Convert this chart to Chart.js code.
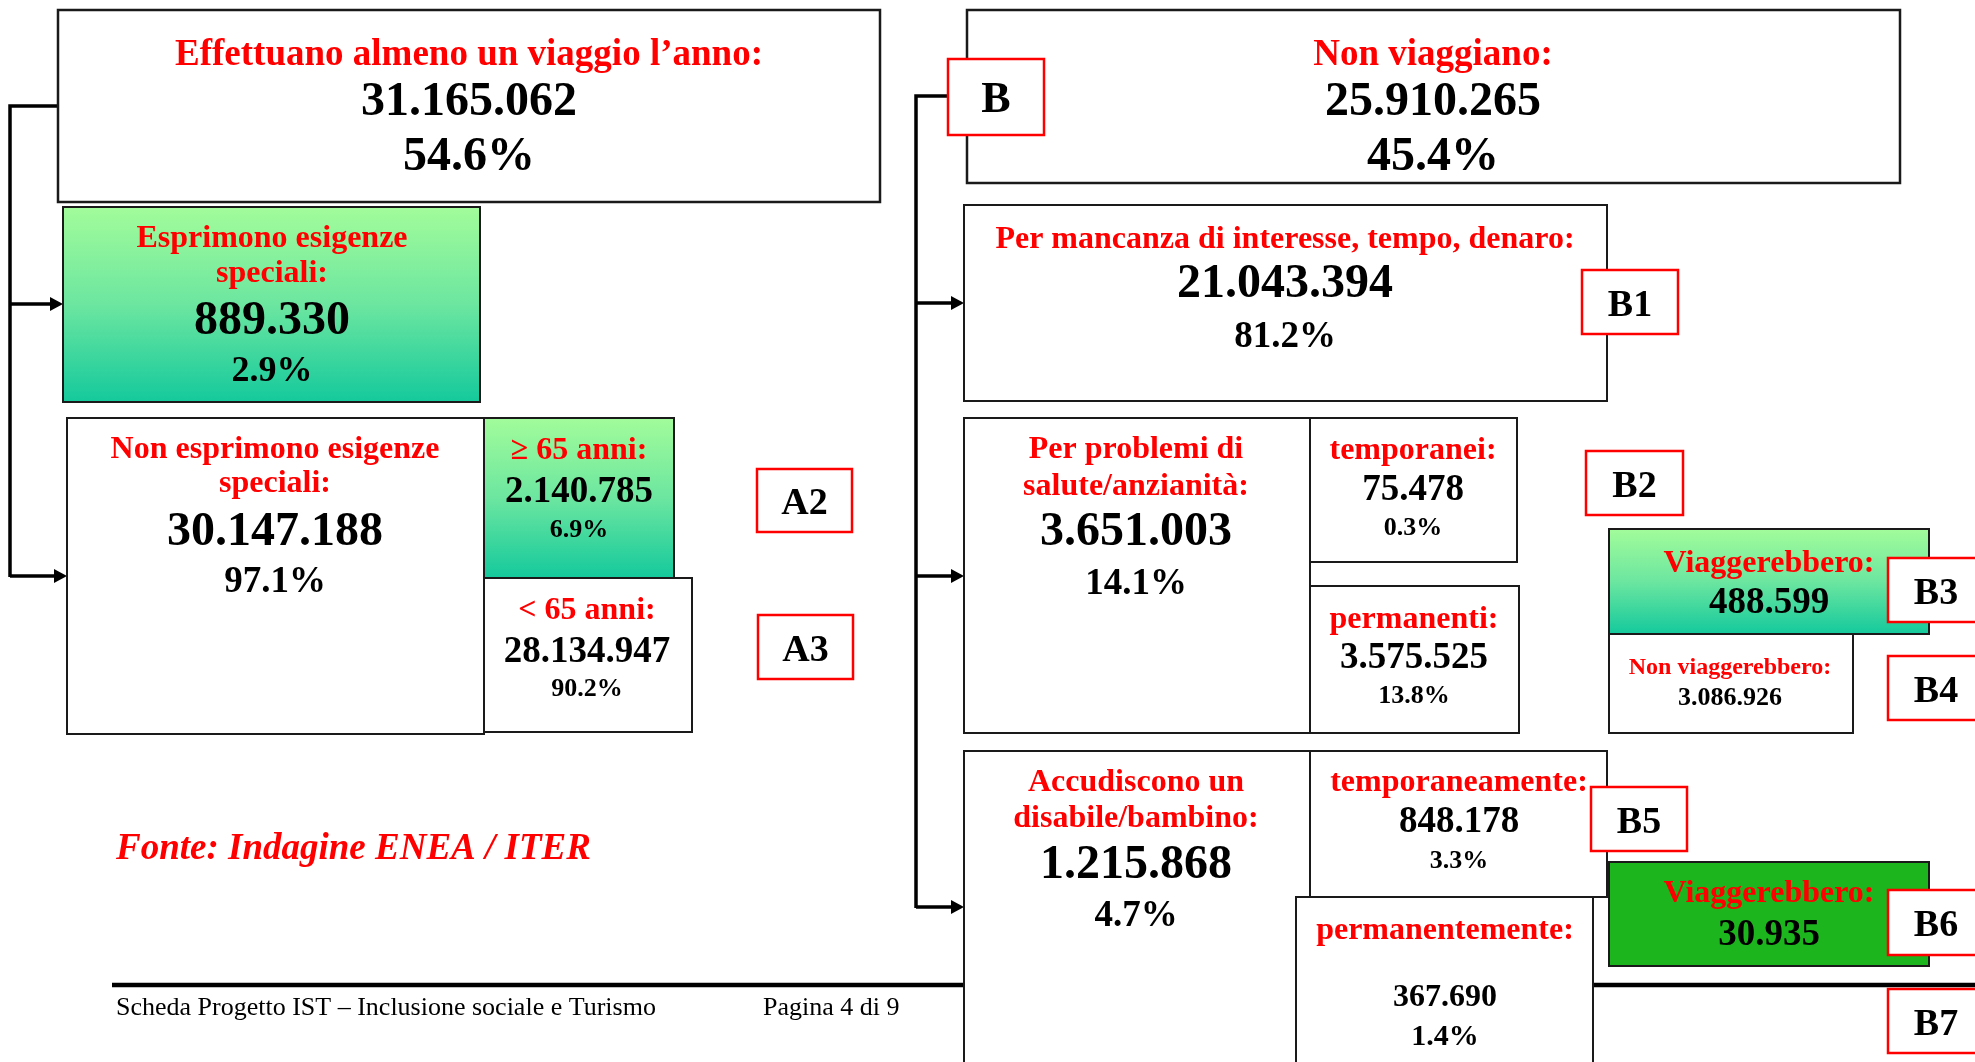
<!DOCTYPE html>
<html>
<head>
<meta charset="utf-8">
<script src="https://cdn.jsdelivr.net/npm/chart.js@4.4.1/dist/chart.umd.min.js"></script>
<style>
  body { margin:0; background:#fff; }
  canvas { display:block; }
</style>
</head>
<body>
<canvas id="diagram" width="1975" height="1062"></canvas>
<script>
// data
const nodeNames = [
  "Effettuano almeno un viaggio l’anno:",
  "Esprimono esigenze\nspeciali:",
  "Non esprimono esigenze\nspeciali:",
  "≥ 65 anni:",
  "< 65 anni:",
  "Non viaggiano:",
  "Per mancanza di interesse, tempo, denaro:",
  "Per problemi di\nsalute/anzianità:",
  "temporanei:",
  "permanenti:",
  "Viaggerebbero:",
  "Non viaggerebbero:",
  "Accudiscono un\ndisabile/bambino:",
  "temporaneamente:",
  "permanentemente:",
  "Viaggerebbero:"
];
const nodeCounts = [31165062, 889330, 30147188, 2140785, 28134947, 25910265, 21043394, 3651003, 75478, 3575525, 488599, 3086926, 1215868, 848178, 367690, 30935];
const nodeShares = [54.6, 2.9, 97.1, 6.9, 90.2, 45.4, 81.2, 14.1, 0.3, 13.8, null, null, 4.7, 3.3, 1.4, null];
const tagCodes = ["A2", "A3", "B", "B1", "B2", "B3", "B4", "B5", "B6", "B7"];
const sourceText = "Fonte: Indagine ENEA / ITER";
const footerLeft = "Scheda Progetto IST – Inclusione sociale e Turismo";
const footerRight = "Pagina 4 di 9";

// layout (pixels in a 1975 x 1062 frame), kept apart from the data
// box, fill, text x, heading line ys, heading size, number y/size, percent y/size
const nodeLayout = [
  { box:[58,10,880,202],    fill:"white", cx:469,  hy:[52],      hs:37, ny:100, ns:48, py:155, ps:48, lw:2.5 },
  { box:[63,207,480,402],   fill:"grad",  cx:272,  hy:[236,271], hs:32, ny:319, ns:48, py:369, ps:36 },
  { box:[67,418,484,734],   fill:"white", cx:275,  hy:[447,481], hs:32, ny:530, ns:48, py:579, ps:37 },
  { box:[484,418,674,578],  fill:"grad",  cx:579,  hy:[448],     hs:32, ny:489, ns:37, py:527, ps:26 },
  { box:[484,578,692,732],  fill:"white", cx:587,  hy:[608],     hs:32, ny:649, ns:37, py:686, ps:26 },
  { box:[967,10,1900,183],  fill:"white", cx:1433, hy:[52],      hs:37, ny:100, ns:48, py:155, ps:48, lw:2.5 },
  { box:[964,205,1607,401], fill:"white", cx:1285, hy:[237],     hs:32, ny:282, ns:48, py:334, ps:37 },
  { box:[964,418,1310,733], fill:"white", cx:1136, hy:[447,484], hs:32, ny:530, ns:48, py:581, ps:37 },
  { box:[1310,418,1517,562],fill:"white", cx:1413, hy:[448],     hs:32, ny:487, ns:37, py:525, ps:26 },
  { box:[1310,586,1519,733],fill:"white", cx:1414, hy:[617],     hs:32, ny:655, ns:37, py:693, ps:26 },
  { box:[1609,529,1929,634],fill:"grad",  cx:1769, hy:[561],     hs:32, ny:600, ns:37 },
  { box:[1609,634,1853,733],fill:"white", cx:1730, hy:[665],     hs:24, ny:695, ns:26 },
  { box:[964,751,1310,1080],fill:"white", cx:1136, hy:[780,816], hs:32, ny:863, ns:48, py:913, ps:37 },
  { box:[1310,751,1607,897],fill:"white", cx:1459, hy:[780],     hs:32, ny:819, ns:37, py:858, ps:26 },
  { box:[1296,897,1593,1080],fill:"white",cx:1445, hy:[928],     hs:32, ny:995, ns:32, py:1034, ps:30 },
  { box:[1609,862,1929,966],fill:"#1db51d",cx:1769,hy:[891],     hs:32, ny:932, ns:37 }
];
const tagLayout = [
  { box:[757,469,852,532],  s:38 },
  { box:[758,615,853,679],  s:38 },
  { box:[948,59,1044,135],  s:44 },
  { box:[1582,270,1678,334],s:38 },
  { box:[1586,451,1683,515],s:38 },
  { box:[1888,558,1990,622],s:38 },
  { box:[1888,656,1990,720],s:38 },
  { box:[1591,787,1687,851],s:38 },
  { box:[1888,890,1990,955],s:38 },
  { box:[1888,989,1990,1053],s:38 }
];
const TEXT_DY = 3; // canvas "middle" sits a touch high for these glyphs

function fmtCount(n) {
  return String(n).replace(/\B(?=(\d{3})+(?!\d))/g, ".");
}

const SERIF = '"Liberation Serif", "Times New Roman", serif';

const diagramPlugin = {
  id: "diagram",
  afterDraw(chart) {
    const ctx = chart.ctx;
    const sx = v => chart.scales.x.getPixelForValue(v);
    const sy = v => chart.scales.y.getPixelForValue(v);
    const ty = v => sy(v + TEXT_DY);

    ctx.save();
    ctx.lineCap = "butt";

    // footer rule, drawn first so the boxes sit over it
    ctx.strokeStyle = "#000";
    ctx.lineWidth = 4.5;
    ctx.beginPath();
    ctx.moveTo(sx(112), sy(985)); ctx.lineTo(sx(964), sy(985));
    ctx.moveTo(sx(1593), sy(985)); ctx.lineTo(sx(1975), sy(985));
    ctx.stroke();

    // connectors
    function arrow(x0, x1, y) {
      ctx.beginPath();
      ctx.moveTo(sx(x0), sy(y)); ctx.lineTo(sx(x1 - 10), sy(y));
      ctx.stroke();
      ctx.beginPath();
      ctx.moveTo(sx(x1), sy(y));
      ctx.lineTo(sx(x1 - 13), sy(y - 7));
      ctx.lineTo(sx(x1 - 13), sy(y + 7));
      ctx.closePath();
      ctx.fill();
    }
    ctx.lineWidth = 3.5;
    ctx.strokeStyle = "#000";
    ctx.fillStyle = "#000";
    ctx.beginPath();
    ctx.moveTo(sx(58), sy(106)); ctx.lineTo(sx(10), sy(106)); ctx.lineTo(sx(10), sy(577));
    ctx.stroke();
    arrow(10, 63, 304);
    arrow(10, 67, 576);
    ctx.beginPath();
    ctx.moveTo(sx(948), sy(96)); ctx.lineTo(sx(916), sy(96)); ctx.lineTo(sx(916), sy(908));
    ctx.stroke();
    arrow(916, 964, 303);
    arrow(916, 964, 576);
    arrow(916, 964, 907);

    // boxes
    nodeLayout.forEach((L, i) => {
      const x0 = sx(L.box[0]), y0 = sy(L.box[1]), x1 = sx(L.box[2]), y1 = sy(L.box[3]);
      if (L.fill === "grad") {
        const g = ctx.createLinearGradient(0, y0, 0, y1);
        g.addColorStop(0, "#a2fc9a");
        g.addColorStop(0.5, "#6ce6a0");
        g.addColorStop(1, "#14c99c");
        ctx.fillStyle = g;
      } else {
        ctx.fillStyle = L.fill;
      }
      ctx.fillRect(x0, y0, x1 - x0, y1 - y0);
      ctx.strokeStyle = "#1a1a1a";
      ctx.lineWidth = L.lw || 2;
      ctx.strokeRect(x0, y0, x1 - x0, y1 - y0);

      ctx.textAlign = "center";
      ctx.textBaseline = "middle";
      ctx.fillStyle = "#ff0000";
      ctx.font = "bold " + L.hs + "px " + SERIF;
      nodeNames[i].split("\n").forEach((line, k) => {
        ctx.fillText(line, sx(L.cx), ty(L.hy[k]));
      });
      ctx.fillStyle = "#000";
      ctx.font = "bold " + L.ns + "px " + SERIF;
      ctx.fillText(fmtCount(nodeCounts[i]), sx(L.cx), ty(L.ny));
      if (nodeShares[i] !== null) {
        ctx.font = "bold " + L.ps + "px " + SERIF;
        ctx.fillText(nodeShares[i].toFixed(1) + "%", sx(L.cx), ty(L.py));
      }
    });

    // red code tags
    tagCodes.forEach((code, i) => {
      const T = tagLayout[i];
      const x0 = sx(T.box[0]), y0 = sy(T.box[1]), x1 = sx(T.box[2]), y1 = sy(T.box[3]);
      ctx.fillStyle = "#fff";
      ctx.fillRect(x0, y0, x1 - x0, y1 - y0);
      ctx.strokeStyle = "#ff0000";
      ctx.lineWidth = 2.5;
      ctx.strokeRect(x0, y0, x1 - x0, y1 - y0);
      ctx.fillStyle = "#000";
      ctx.font = "bold " + T.s + "px " + SERIF;
      ctx.textAlign = "center";
      ctx.textBaseline = "middle";
      const cxT = T.box[2] > 1975 ? 1936 : (T.box[0] + T.box[2]) / 2;
      ctx.fillText(code, sx(cxT), ty((T.box[1] + T.box[3]) / 2 + 1));
    });

    // source note and footer
    ctx.textAlign = "left";
    ctx.fillStyle = "#ff0000";
    ctx.font = "italic bold 37px " + SERIF;
    ctx.fillText(sourceText, sx(116), ty(846));
    ctx.fillStyle = "#000";
    ctx.font = "26px " + SERIF;
    ctx.fillText(footerLeft, sx(116), ty(1005));
    ctx.fillText(footerRight, sx(763), ty(1005));

    ctx.restore();
  }
};

new Chart(document.getElementById("diagram"), {
  type: "scatter",
  data: { datasets: [{ data: [], pointRadius: 0 }] },
  options: {
    responsive: false,
    animation: false,
    devicePixelRatio: 1,
    layout: { padding: 0 },
    plugins: { legend: { display: false }, tooltip: { enabled: false } },
    scales: {
      x: { type: "linear", min: 0, max: 1975, display: false },
      y: { type: "linear", min: 0, max: 1062, reverse: true, display: false }
    }
  },
  plugins: [diagramPlugin]
});
</script>
</body>
</html>
